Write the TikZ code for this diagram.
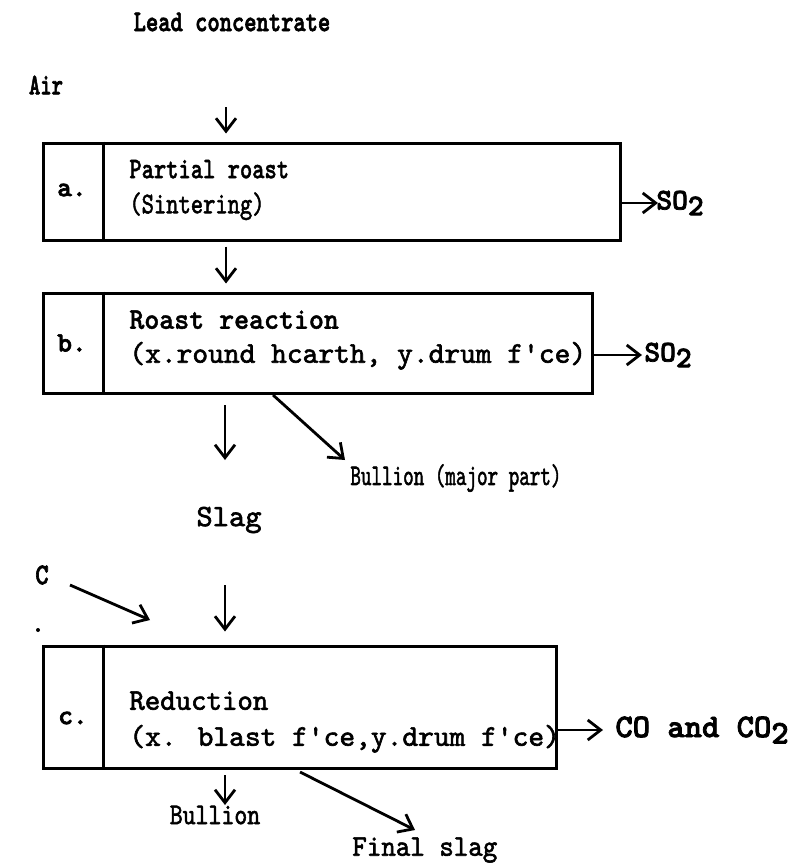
\documentclass[tikz,border=0pt]{standalone}
\usepackage{fontspec}
\usetikzlibrary{arrows.meta}
\newfontfamily\bodytt{lmmono10-regular.otf}[FakeBold=2]
\newfontfamily\heavytt{lmmonolt10-bold.otf}[FakeBold=2.5]
\newfontfamily\semitt{lmmonolt10-bold.otf}[FakeBold=1.5]
\newcommand\subtwo{\raisebox{-0.45ex}{2}}
\newcommand\xsq[2]{\scalebox{#1}[1]{#2}}
\begin{document}
\begin{tikzpicture}[x=0.5pt,y=-0.5pt,
  txt/.style={inner sep=0pt, align=left},
  fs/.style={font=\fontsize{#1}{#1}\selectfont\bodytt},
  fsb/.style={font=\fontsize{#1}{#1}\selectfont\heavytt},
  procbox/.style={draw, line width=1.5pt, inner sep=0pt},
  divider/.style={line width=1.5pt},
  arr/.style={-{Straight Barb[length=6.5pt,width=10pt,line width=1.4pt]}, line width=1.4pt},
  speck/.style={circle, fill, inner sep=0pt, minimum size=2pt}]
\useasboundingbox (0,0) rectangle (799,867);
% top inputs
\node[txt, fsb=15] (lead) at (232,22) {\xsq{0.78}{Lead concentrate}};
\node[txt, fsb=15] (air) at (46,85) {\xsq{0.72}{Air}};
% boxes
\node[procbox, minimum width=288.5pt, minimum height=48.5pt] (A) at (331.5,191.5) {};
\node[procbox, minimum width=274.5pt, minimum height=50pt] (B) at (317.5,343) {};
\node[procbox, minimum width=256.5pt, minimum height=61pt] (Cb) at (299.5,707) {};
\draw[divider] ([xshift=31pt]A.north west) -- ([xshift=31pt]A.south west);
\draw[divider] ([xshift=31pt]B.north west) -- ([xshift=31pt]B.south west);
\draw[divider] ([xshift=31pt]Cb.north west) -- ([xshift=31pt]Cb.south west);
\node[txt, fsb=14] (la) at (72,190) {a.};
\node[txt, fsb=14] (lb) at (72,343) {b.};
\node[txt, fsb=14] (lc) at (73,718) {c.};
\node[txt, anchor=west, font=\fontsize{15}{17.5}\selectfont\bodytt] (ta) at (129,190)
  {{\semitt\xsq{0.78}{Partial roast}}\\\xsq{0.78}{(Sintering)}};
\node[txt, anchor=west, font=\fontsize{15}{17}\selectfont\bodytt] (tb) at (129,340)
  {{\semitt\xsq{0.95}{Roast reaction}}\\(x.round hcarth, y.drum f'ce)};
\node[txt, anchor=west, font=\fontsize{15}{18}\selectfont\bodytt] (tc) at (129,722)
  {\xsq{0.98}{Reduction}\\(x. blast f'ce,y.drum f'ce)};
% outputs
\node[txt, fsb=15, anchor=west] (so2a) at (656,203) {SO\subtwo};
\node[txt, fsb=15, anchor=west] (so2b) at (644,355) {SO\subtwo};
\node[txt, fs=15.5] (slag) at (229,520) {Slag};
\node[txt, fs=15, anchor=west] (bmaj) at (350,478) {\xsq{0.67}{Bullion (major part)}};
\node[txt, fsb=15] (cin) at (42,575) {\xsq{0.85}{C}};
\node[speck] (spk) at (38,630) {};
\node[txt, fsb=16.5, anchor=west] (co) at (615,730) {CO and CO\subtwo};
\node[txt, fs=15] (bul) at (215,815) {\xsq{0.82}{Bullion}};
\node[txt, fs=15, anchor=west] (fsl) at (352,850) {\xsq{0.92}{Final slag}};
% connector ends
\coordinate (p1) at (226,107);
\coordinate (colx) at (226,0);
\coordinate (bm0) at (273,395);
\coordinate (bm1) at (345,460);
\coordinate (s0) at (225,405);
\coordinate (s1) at (225,460);
\coordinate (c0) at (70,585);
\coordinate (c1) at (150,620);
\coordinate (r0) at (225,585);
\coordinate (u0) at (225,775);
\coordinate (u1) at (225,805);
\coordinate (fs0) at (300,772);
\coordinate (fs1) at (415,830);
% connectors
\draw[arr] (p1) -- ([yshift=4pt]p1 |- A.north);
\draw[arr] ([yshift=-2.5pt]colx |- A.south) -- ([yshift=4pt]colx |- B.north);
\draw[arr] (A.east |- so2a.west) -- ([xshift=1pt]so2a.west);
\draw[arr] (B.east |- so2b.west) -- ([xshift=-1pt]so2b.west);
\draw[arr] (s0) -- (s1);
\draw[arr] (bm0) -- (bm1);
\draw[arr] (c0) -- (c1);
\draw[arr] (r0) -- ([yshift=6.5pt]r0 |- Cb.north);
\draw[arr] (Cb.east |- co.west) -- ([xshift=-6pt]co.west);
\draw[arr] (u0) -- (u1);
\draw[arr] (fs0) -- (fs1);
\end{tikzpicture}
\end{document}
